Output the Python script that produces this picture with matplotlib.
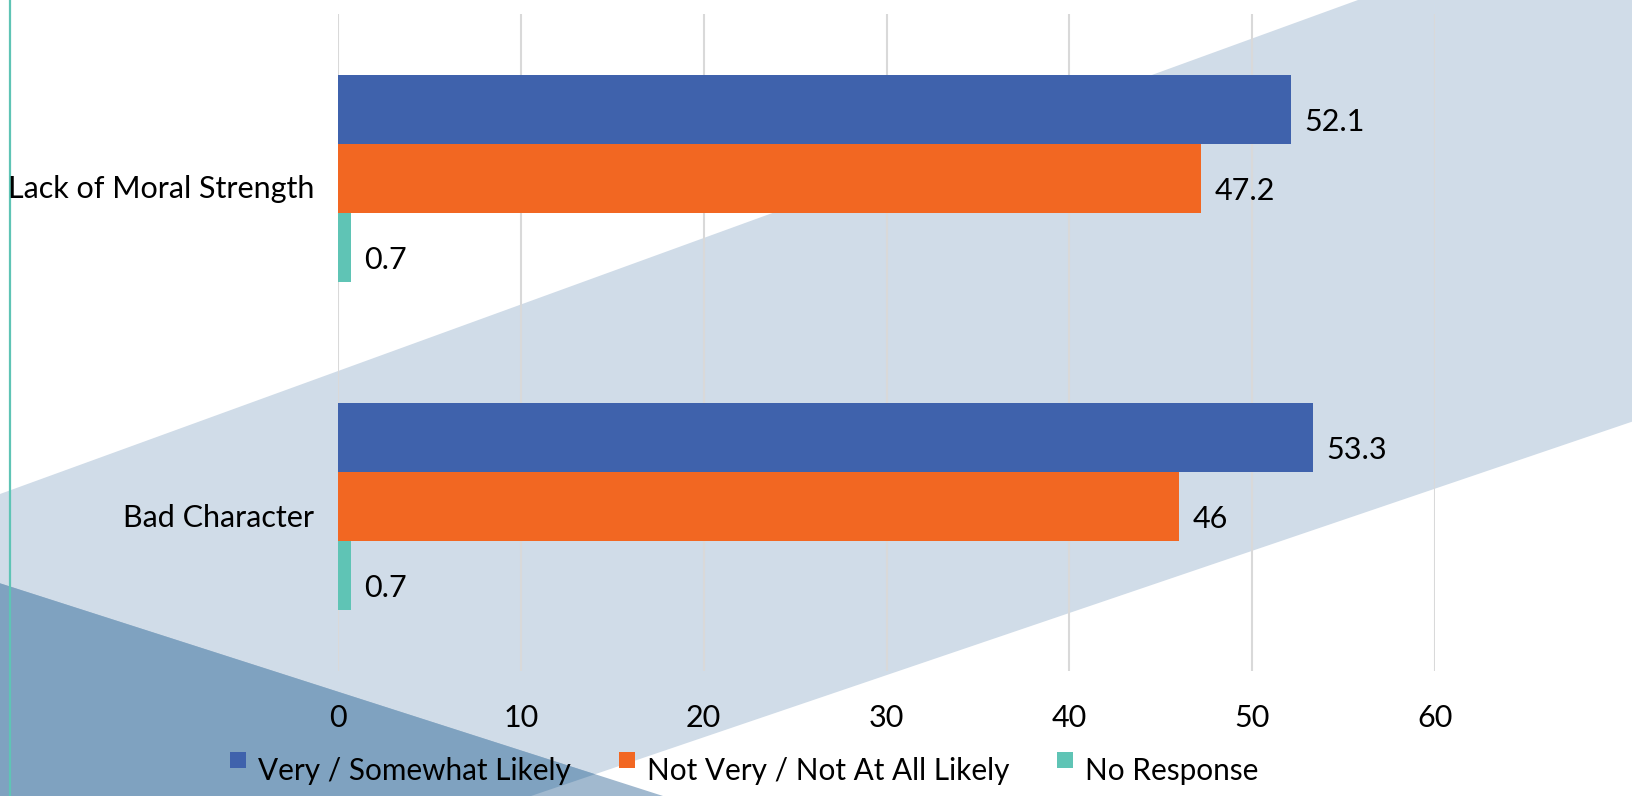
import matplotlib.pyplot as plt
import numpy as np
from matplotlib.patches import Polygon, Rectangle
from matplotlib.transforms import ScaledTranslation

plt.rcParams['font.family'] = ['Lato', 'DejaVu Sans']

categories = ['Lack of Moral Strength', 'Bad Character']
series = ['Very / Somewhat Likely', 'Not Very / Not At All Likely', 'No Response']
values = [
    [52.1, 53.3],   # Very / Somewhat Likely
    [47.2, 46.0],   # Not Very / Not At All Likely
    [0.7, 0.7],     # No Response
]
value_labels = [['52.1', '53.3'], ['47.2', '46'], ['0.7', '0.7']]
xticks = [0, 10, 20, 30, 40, 50, 60]

colors = ['#3f62ac', '#f26722', '#5fc4b5']
W, H = 1632, 796
FS = 22

fig = plt.figure(figsize=(W / 100, H / 100), dpi=100)
fig.patch.set_facecolor('white')

# --- slide-style background shapes (pixel coords) ---
bg = fig.add_axes([0, 0, 1, 1], zorder=-1)
bg.set_xlim(0, W)
bg.set_ylim(H, 0)
bg.axis('off')
band = Polygon([(0, 494), (1358, 0), (W, 0), (W, 421.7), (531, H), (0, H)],
               closed=True, facecolor='#d0dce8', edgecolor='none')
bg.add_patch(band)
tri_pts = [(0, 583.3), (663, H), (0, H)]
bg.add_patch(Polygon(tri_pts, closed=True, facecolor='#a1b9cf', edgecolor='none'))
tri_dark = Polygon(tri_pts, closed=True, facecolor='#7fa2c0', edgecolor='none')
bg.add_patch(tri_dark)
tri_dark.set_clip_path(band)
bg.plot([10, 10], [0, H], color='#5fc4b5', lw=1.6)

# --- bar chart ---
ax = fig.add_axes([338 / W, 1 - 671 / H, (1435 - 338) / W, (671 - 14) / H])
ax.set_facecolor('none')

# labels sit a little below the bar centre, so anchor them on the baseline
down = ScaledTranslation(0, -0.215, fig.dpi_scale_trans)

h = 0.21
y = np.arange(len(categories))
for j, (name, vals, col) in enumerate(zip(series, values, colors)):
    pos = y + (j - 1) * h
    ax.barh(pos, vals, height=h, color=col, label=name, zorder=3)
    for p, v, txt in zip(pos, vals, value_labels[j]):
        ax.text(v + 0.75, p, txt, va='baseline', ha='left', fontsize=FS,
                zorder=4, transform=ax.transData + down)

ax.set_xlim(0, 60)
ax.set_ylim(1.5, -0.5)
ax.set_xticks(xticks)
ax.set_yticks(y)
ax.set_yticklabels(categories)
ax.tick_params(axis='both', length=0, labelsize=FS)
ax.tick_params(axis='x', pad=40)
ax.tick_params(axis='y', pad=17)
for lab in ax.get_xticklabels():
    lab.set_va('baseline')
for lab in ax.get_yticklabels():
    lab.set_va('baseline')
    lab.set_transform(lab.get_transform() + ScaledTranslation(0, -0.20, fig.dpi_scale_trans))
ax.grid(axis='x', color='#d9d9d9', lw=1.5, zorder=0)
for s in ax.spines.values():
    s.set_visible(False)

# --- legend row below the axis ---
fig.canvas.draw()
renderer = fig.canvas.get_renderer()
x0 = 230
for name, col in zip(series, colors):
    bg.add_patch(Rectangle((x0, 752), 16, 16, facecolor=col, edgecolor='none'))
    t = bg.text(x0 + 28, 780, name, fontsize=21.4, va='baseline', ha='left')
    wpx = t.get_window_extent(renderer).width
    x0 = x0 + 28 + wpx + 48

fig.savefig('out.png', dpi=100)
